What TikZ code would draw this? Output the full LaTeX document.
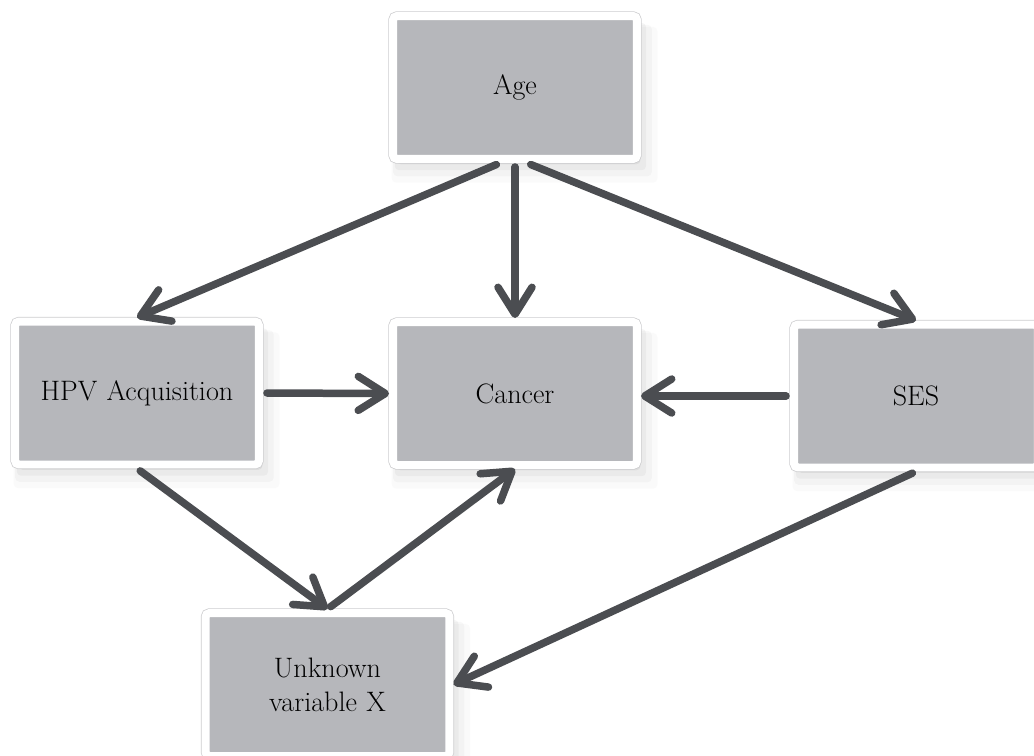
\documentclass[tikz,border=0pt]{standalone}
\usetikzlibrary{arrows.meta,shadows}
\definecolor{boxgray}{HTML}{B6B7BB}
\definecolor{arrowgray}{HTML}{4B4D51}
\definecolor{rimgray}{HTML}{CDCDCF}
\tikzset{>={Straight Barb[length=0.54cm,width=0.68cm,round]}}
\tikzset{
  var/.style={rectangle, fill=boxgray, draw=white, line width=0.16cm, rounded corners=0.08cm,
    minimum width=4.88cm, minimum height=2.86cm, text width=4.5cm, align=center,
    font=\fontsize{16}{19.3}\selectfont, text=black,
    drop shadow={shadow xshift=2pt, shadow yshift=-3pt, opacity=0.12},
    drop shadow={shadow xshift=3pt, shadow yshift=-5pt, opacity=0.08, shadow scale=1.03},
    drop shadow={shadow xshift=4pt, shadow yshift=-7pt, opacity=0.06, shadow scale=1.06},
    drop shadow={shadow xshift=5pt, shadow yshift=-9pt, opacity=0.04, shadow scale=1.09},
    preaction={draw=rimgray, line width=0.19cm}},
  link/.style={->, draw=arrowgray, line width=0.15cm, line cap=round, shorten <=0.08cm}
}
\begin{document}
\begin{tikzpicture}[x=0.02cm,y=-0.02cm]
\useasboundingbox (0,0) rectangle (1034,755);
\clip (0,0) rectangle (1034,755);
% variables:
 \node[var] (age) at (515,87.5) {Age};
 \node[var] (hpv) at (137,393) {HPV Acquisition};
 \node[var] (cancer) at (515,393.5) {Cancer};
 \node[var] (ses) at (916,396) {SES};
 \node[var] (unk) at (327.5,684.5) {Unknown\\variable X};
% paths from age:
 \draw[link] ([xshift=-0.3cm]age.south) -- (hpv.north);
 \draw[link] (age.south) -- (cancer.north);
 \draw[link] ([xshift=0.24cm]age.south) -- (ses.north);
% paths into cancer:
 \draw[link] (hpv.east) -- (cancer.west);
 \draw[link] (ses.west) -- (ses.west -| cancer.east);
 \draw[link] (unk.north) -- (cancer.south);
% paths into unknown variable:
 \draw[link] (hpv.south) -- (unk.north);
 \draw[link] (ses.south) -- (unk.east);
\end{tikzpicture}
\end{document}
